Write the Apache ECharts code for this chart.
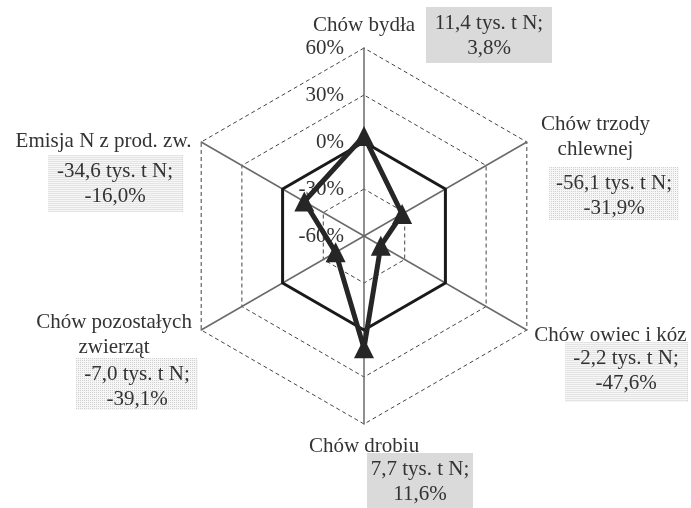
<!DOCTYPE html>
<html>
<head>
<meta charset="UTF-8">
<title></title>
<script src="https://cdn.jsdelivr.net/npm/echarts@6/dist/echarts.min.js"></script>
<style>
  html, body { margin: 0; padding: 0; background: #fff; }
</style>
</head>
<body>
<div id="main" style="width: 691px;height:508px;"></div>
<script type="text/javascript">
// categories in clockwise order starting at the top
var categories = ['Chów bydła', 'Chów trzody\nchlewnej', 'Chów owiec i kóz', 'Chów drobiu', 'Chów pozostałych\nzwierząt', 'Emisja N z prod. zw.'];
var shares = [3.8, -31.9, -47.6, 11.6, -39.1, -16.0];          // zmiana w %
var tonnes = ['11,4', '-56,1', '-2,2', '7,7', '-7,0', '-34,6']; // tys. t N
var zeroRing = [0, 0, 0, 0, 0, 0];
var axisMin = -60, axisMax = 60;

var font = '"Liberation Serif", "DejaVu Serif", serif';
var fs = 21;
var myChart = echarts.init(document.getElementById('main'));

// echarts lays radar indicators counter-clockwise, so reverse the tail
function clockwise(arr) {
	return [arr[0]].concat(arr.slice(1).reverse());
}

var indicator = clockwise(categories).map(function (n, i) {
	var ind = { name: n, min: axisMin, max: axisMax };
	if (i === 0) ind.axisLabel = { show: true };
	return ind;
});

// dotted fill like the grey raster boxes in the original
function dots(w, h) {
	var c = document.createElement('canvas');
	c.width = w; c.height = h;
	var ctx = c.getContext('2d');
	ctx.fillStyle = '#f6f6f6';
	ctx.fillRect(0, 0, w, h);
	ctx.fillStyle = '#d2d2d2';
	for (var x = 0; x < w; x += 2) {
		for (var y = 0; y < h; y += 2) ctx.fillRect(x, y, 1, 1);
	}
	return c;
}

// value boxes next to the axis names
var boxPos = [[489, 7], [614, 167], [626, 342], [420, 453], [137, 358], [115, 155]];
var boxW = [126, 130, 123, 106, 122, 135];
var boxH = [56, 53, 60, 55, 52, 57];
var boxSolid = [true, false, false, true, false, false];
var graphic = categories.map(function (c, i) {
	return {
		type: 'text',
		x: boxPos[i][0],
		y: boxPos[i][1],
		silent: true,
		style: {
			text: tonnes[i] + ' tys. t N;\n' + shares[i].toFixed(1).replace('.', ',') + '%',
			font: fs + 'px ' + font,
			fill: '#333',
			align: 'center',
			verticalAlign: 'top',
			width: boxW[i],
			height: boxH[i] - 4,
			lineHeight: 25,
			padding: [4, 0, 0, 0],
			backgroundColor: boxSolid[i] ? '#dadada' : { image: dots(boxW[i], boxH[i]) }
		}
	};
});

// shift of each axis name away from its default anchor (via padding)
var nameStyle = {
	'Chów bydła': 'top',
	'Chów trzody\nchlewnej': 'tr',
	'Chów owiec i kóz': 'br',
	'Chów drobiu': 'top',
	'Chów pozostałych\nzwierząt': 'bl',
	'Emisja N z prod. zw.': 'tl'
};
var rich = {
	top: { padding: [0, 0, 0, 0] },
	tr: { padding: [0, 0, 0, 120] },
	br: { padding: [0, 0, 0, 150] },
	bl: { padding: [0, 157, 0, 0] },
	tl: { padding: [8, 178, 0, 0] }
};
Object.keys(rich).forEach(function (k) {
	rich[k].fontSize = fs;
	rich[k].fontFamily = font;
	rich[k].color = '#333';
	rich[k].lineHeight = 25;
});

myChart.setOption({
	animation: false,
	textStyle: { fontFamily: font },
	graphic: graphic,
	radar: {
		center: [364, 236],
		radius: 188,
		startAngle: 90,
		splitNumber: 4,
		shape: 'polygon',
		indicator: indicator,
		nameGap: 10,
		axisName: {
			color: '#333',
			fontSize: fs,
			fontFamily: font,
			lineHeight: 25,
			align: 'center',
			formatter: function (name) {
				var k = nameStyle[name];
				return name.split('\n').map(function (l) {
					return '{' + k + '|' + l + '}';
				}).join('\n');
			},
			rich: rich
		},
		axisLine: { lineStyle: { color: '#6a6a6a', width: 1.5 } },
		splitLine: { lineStyle: { color: '#444', width: 1, type: [4, 3] } },
		splitArea: { show: false },
		axisTick: { show: false },
		axisLabel: {
			show: false,
			color: '#333',
			fontSize: fs,
			fontFamily: font,
			margin: 20,
			formatter: '{value}%'
		}
	},
	series: [{
		type: 'radar',
		silent: true,
		symbol: 'none',
		lineStyle: { color: '#1a1a1a', width: 3, type: 'solid' },
		data: [{ value: clockwise(zeroRing) }]
	}, {
		type: 'radar',
		symbol: 'triangle',
		symbolSize: 20,
		itemStyle: { color: '#262626' },
		lineStyle: { color: '#262626', width: 5 },
		data: [{ value: clockwise(shares) }]
	}]
});
</script>
</body>
</html>
